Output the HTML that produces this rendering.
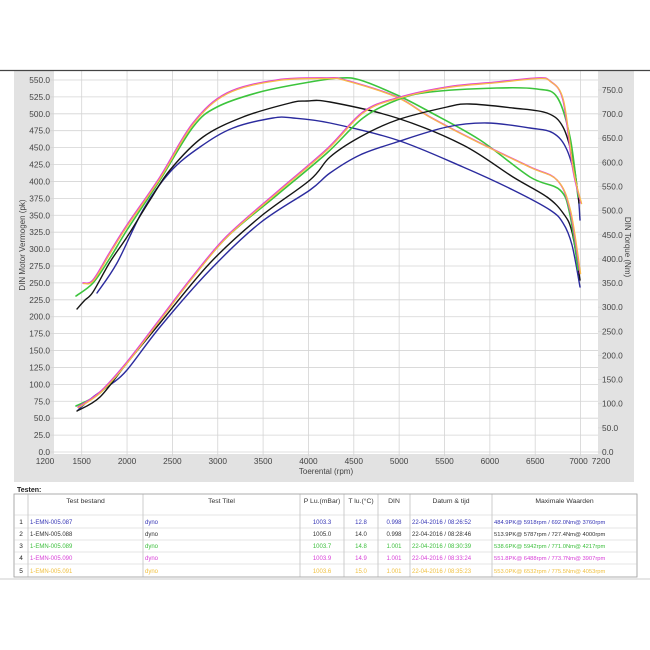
<!DOCTYPE html>
<html><head><meta charset="utf-8"><style>
html,body{margin:0;padding:0;background:#fff;}
svg{display:block;font-family:"Liberation Sans",sans-serif;}
</style></head><body>
<svg id="s" width="650" height="650" viewBox="0 0 650 650" xmlns="http://www.w3.org/2000/svg">
<rect x="14" y="71" width="620" height="411" fill="#e2e2e2"/>
<rect x="54" y="71" width="544" height="383" fill="#fff"/>
<g id="grid" stroke="#d4d4d4" stroke-width="0.8"></g>
<g id="lab" font-size="8.3" fill="#444"></g>
<line x1="0" y1="70.5" x2="650" y2="70.5" stroke="#444" stroke-width="1.2"/>
<text transform="translate(25,245) rotate(-90)" font-size="8" fill="#444" text-anchor="middle">DIN Motor Vermogen (pk)</text>
<text transform="translate(625,247) rotate(90)" font-size="8" fill="#444" text-anchor="middle">DIN Torque (Nm)</text>
<text x="326" y="474" font-size="8" fill="#444" text-anchor="middle">Toerental (rpm)</text>
<g id="curves" fill="none" stroke-width="1.4" stroke-linejoin="round" stroke-linecap="round"></g>
<text x="17" y="492" font-size="7" font-weight="bold" fill="#222">Testen:</text>
<g id="tbl" font-size="6"></g>
<line x1="0" y1="579" x2="650" y2="579" stroke="#ccc" stroke-width="1"/>
</svg>
<script>
var NS="http://www.w3.org/2000/svg";
function el(p,t,a,txt){var e=document.createElementNS(NS,t);for(var k in a)e.setAttribute(k,a[k]);if(txt!=null)e.textContent=txt;p.appendChild(e);return e;}
var g=document.getElementById('grid'),lab=document.getElementById('lab');
function X(r){return 81.7+(r-1500)*0.0907;}
for(var r=1500;r<=7000;r+=500){el(g,'line',{x1:X(r),y1:71,x2:X(r),y2:456});
 el(lab,'text',{x:X(r)-(r==7000?2:0),y:464,'text-anchor':'middle'},String(r));}
el(lab,'text',{x:45,y:464,'text-anchor':'middle'},'1200');
el(lab,'text',{x:601,y:464,'text-anchor':'middle'},'7200');
for(var v=0;v<=550;v+=25){var y=452-v*0.6764;el(g,'line',{x1:50,y1:y,x2:598,y2:y});
 el(lab,'text',{x:50,y:y+3,'text-anchor':'end'},v.toFixed(1));}
for(var v=0;v<=750;v+=50){var y=452-v*0.4827;el(g,'line',{x1:598,y1:y,x2:602,y2:y});
 el(lab,'text',{x:602,y:y+3},v.toFixed(1));}
function cr(p){var d='M'+p[0][0]+','+p[0][1];for(var i=0;i<p.length-1;i++){var a=p[Math.max(0,i-1)],b=p[i],c=p[i+1],e=p[Math.min(p.length-1,i+2)];
 d+=' C'+(b[0]+(c[0]-a[0])/6).toFixed(1)+','+(b[1]+(c[1]-a[1])/6).toFixed(1)+' '+(c[0]-(e[0]-b[0])/6).toFixed(1)+','+(c[1]-(e[1]-b[1])/6).toFixed(1)+' '+c[0]+','+c[1];}return d;}
var cv=document.getElementById('curves');
var S={
blueA:[[97,293],[117,263],[143,210],[170,172],[200,147],[233,128],[273,118],[293,118],[330,123],[397,140],[463,167],[513,190],[550,210],[563,223],[572,245],[580,287]],
blackA:[[77,309],[85,300],[93,292],[110,262],[127,237],[150,200],[170,170],[203,137],[243,117],[290,103],[307,101],[330,102],[397,118],[463,145],[513,177],[547,197],[563,213],[572,232],[580,280]],
greenA:[[76,296],[93,283],[110,258],[127,230],[160,180],[193,127],[217,107],[260,92],[310,82],[340,78],[360,80],[397,95],[430,112],[480,140],[530,177],[560,190],[570,215],[578,270]],
pinkA:[[83,283],[93,280],[110,252],[127,225],[160,177],[193,123],[227,93],[277,80],[327,78],[345,80],[397,97],[430,117],[480,143],[530,167],[557,180],[570,210],[580,273]],
blueB:[[78,410],[93,397],[110,385],[127,370],[160,327],[210,270],[260,223],[310,190],[330,173],[360,155],[397,142],[447,127],[487,123],[530,128],[553,133],[567,150],[577,187],[580,220]],
blackB:[[77,411],[100,397],[127,363],[160,323],[210,263],[260,217],[310,180],[330,157],[360,137],[397,120],[447,107],[470,104],[513,108],[547,113],[563,127],[573,160],[579,203]],
greenB:[[76,406],[100,393],[127,363],[160,320],[193,277],[227,237],[277,195],[327,153],[363,118],[397,100],[430,92],[497,88],[537,89],[557,97],[570,137],[578,197]],
pinkB:[[78,407],[100,392],[127,362],[160,319],[193,276],[227,236],[277,192],[327,149],[363,112],[397,98],[447,87],[497,82],[537,78],[550,81],[563,100],[573,170],[581,203]]};
function draw(k,c,w,dx,dy){var pts=S[k].map(function(p){return [p[0]+(dx||0),p[1]+(dy||0)];});el(cv,'path',{d:cr(pts),stroke:c,'stroke-width':w||1.4});}
['A','B'].forEach(function(s){
 draw('blue'+s,'#2b2b9e');draw('black'+s,'#151515');draw('green'+s,'#3cc43c',1.6);
 draw('pink'+s,'#e040d8',1.6);draw('pink'+s,'#f7b84a',1.3,0.6,0.6);});
// table
var t=document.getElementById('tbl');
var cols=[14,28,143,300,344,378,410,492,637];
el(t,'rect',{x:14,y:494,width:623,height:83,fill:'#fff',stroke:'#999','stroke-width':0.8});
cols.forEach(function(x){el(t,'line',{x1:x,y1:494,x2:x,y2:577,stroke:'#aaa','stroke-width':0.6});});
var rys=[515,528,540,552,564];
rys.forEach(function(y){el(t,'line',{x1:14,y1:y,x2:637,y2:y,stroke:'#ccc','stroke-width':0.6});});
var hd=['Test bestand','Test Titel','P Lu.(mBar)','T lu.(°C)','DIN','Datum & tijd','Maximale Waarden'];
hd.forEach(function(h,i){el(t,'text',{x:(cols[i+1]+cols[i+2])/2,y:503,'text-anchor':'middle','font-size':6.8,fill:'#333'},h);});
var rows=[['#3535b5','1-EMN-005.087','1003.3','12.8','0.998','22-04-2016 / 08:26:52','484.9PK@ 5918rpm / 692.0Nm@ 3760rpm'],
['#333','1-EMN-005.088','1005.0','14.0','0.998','22-04-2016 / 08:28:46','513.9PK@ 5787rpm / 727.4Nm@ 4000rpm'],
['#3cbf3c','1-EMN-005.089','1003.7','14.8','1.001','22-04-2016 / 08:30:39','538.6PK@ 5942rpm / 771.0Nm@ 4217rpm'],
['#d840d8','1-EMN-005.090','1003.9','14.9','1.001','22-04-2016 / 08:33:24','551.8PK@ 6488rpm / 773.7Nm@ 3907rpm'],
['#f0c040','1-EMN-005.091','1003.6','15.0','1.001','22-04-2016 / 08:35:23','553.0PK@ 6532rpm / 775.5Nm@ 4053rpm']];
rows.forEach(function(r,i){var y=[524,536,548,560,573][i];
 el(t,'text',{x:21,y:y,'text-anchor':'middle','font-size':6.5,fill:'#222'},String(i+1));
 el(t,'text',{x:30,y:y,fill:r[0]},r[1]);
 el(t,'text',{x:145,y:y,fill:r[0]},'dyno');
 el(t,'text',{x:322,y:y,'text-anchor':'middle',fill:r[0]},r[2]);
 el(t,'text',{x:361,y:y,'text-anchor':'middle',fill:r[0]},r[3]);
 el(t,'text',{x:394,y:y,'text-anchor':'middle',fill:r[0]},r[4]);
 el(t,'text',{x:412,y:y,fill:r[0]},r[5]);
 el(t,'text',{x:494,y:y,fill:r[0],'font-size':5.8},r[6]);});
</script>
</body></html>
